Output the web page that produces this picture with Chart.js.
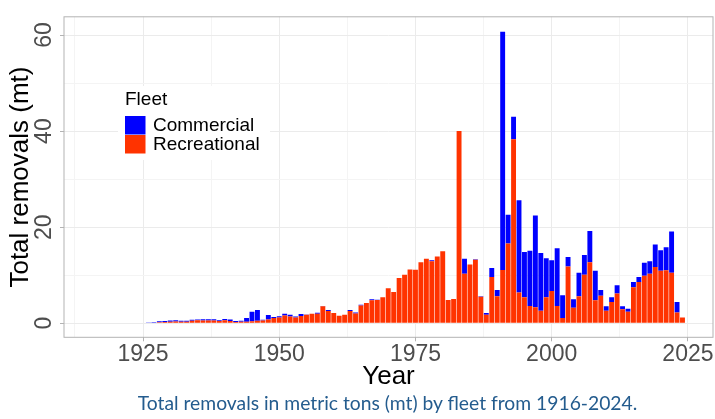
<!DOCTYPE html>
<html>
<head>
<meta charset="utf-8">
<script src="https://cdn.jsdelivr.net/npm/chart.js@4"></script>
<style>
  html, body { margin: 0; padding: 0; background: #fff; }
  #wrap { position: relative; width: 715px; height: 419px; }
  #chart { position: absolute; left: 0; top: 0; }
  #caption {
    position: absolute; left: 0; top: 391px; width: 775px;
    font-family: Lato, "Open Sans", sans-serif; font-size: 19.3px;
    color: #245c8e; text-align: center; white-space: nowrap;
  }
</style>
</head>
<body>
<div id="wrap">
  <canvas id="chart" width="715" height="392"></canvas>
  <div id="caption">Total removals in metric tons (mt) by fleet from 1916-2024.</div>
</div>
<script>
// removals per year, metric tons
const years = [];
for (let y = 1916; y <= 2024; y++) years.push(y);

const recreational = [
    0, 0, 0, 0, 0, 0, 0, 0, 0, 0,
    0, 0.1, 0.2, 0.25, 0.3, 0.35, 0.3, 0.3, 0.5, 0.6,
    0.55, 0.55, 0.55, 0.45, 0.6, 0.45, 0.25, 0.3, 0.3, 0.4,
    0.5, 0.55, 0.75, 1.1, 1.2, 1.6, 1.4, 1.2, 1.5, 1.75,
    1.95, 1.95, 3.5, 2.55, 2.1, 1.55, 1.75, 2.55, 2.0, 3.7,
    4.2, 4.8, 4.85, 5.4, 7.3, 6.5, 9.4, 10.1, 11.2, 11.15,
    12.7, 13.4, 12.9, 13.9, 15.0, 4.85, 5.05, 40.0, 10.3, 12.2,
    13.2, 5.5, 1.75, 9.6, 5.6, 11.1, 16.6, 38.3, 6.4, 5.4,
    3.6, 3.3, 2.6, 5.4, 6.7, 3.6, 1.1, 11.8, 3.2, 5.6,
    10.1, 12.7, 4.8, 5.7, 2.6, 4.4, 6.2, 2.9, 2.4, 7.5,
    8.6, 9.9, 10.3, 11.7, 10.9, 11.0, 10.5, 2.2, 1.2
];

const commercial = [
    0, 0.1, 0.1, 0, 0, 0.1, 0.1, 0, 0, 0.1,
    0.15, 0.1, 0.2, 0.2, 0.25, 0.25, 0.2, 0.2, 0.2, 0.15,
    0.25, 0.25, 0.25, 0.15, 0.25, 0.3, 0.2, 0.2, 0.8, 2.0,
    2.25, 0.15, 0.95, 0.2, 0.25, 0.35, 0.35, 0.2, 0.4, 0.05,
    0, 0.2, 0.1, 0.2, 0, 0, 0, 0.2, 0.2, 0.15,
    0, 0.2, 0.05, 0, 0, 0, 0, 0, 0, 0,
    0, 0, 0.2, 0, 0, 0, 0, 0, 3.1, 0,
    0.1, 0.1, 0.35, 1.9, 1.3, 49.6, 6.0, 4.7, 19.2, 9.4,
    11.5, 19.1, 12.0, 8.1, 6.4, 12.0, 4.7, 2.0, 1.8, 4.9,
    4.1, 6.5, 6.1, 1.2, 0.9, 1.0, 1.7, 0.6, 0.6, 1.1,
    1.0, 2.7, 2.6, 4.7, 4.3, 4.8, 8.6, 2.2, 0
];

const yTicks = [0, 10, 20, 30, 40, 50, 60];
const xTicks = [1912.5, 1925, 1937.5, 1950, 1962.5, 1975, 1987.5, 2000, 2012.5, 2025];

const BLUE = '#0000ff';
const RED = '#ff3300';
const FONT = '"Liberation Sans", Arial, sans-serif';

// panel border on all four sides
const panelBorder = {
    id: 'panelBorder',
    afterDraw(chart) {
        const { ctx, chartArea: a } = chart;
        ctx.save();
        ctx.strokeStyle = '#b3b3b3';
        ctx.lineWidth = 1;
        ctx.strokeRect(a.left, a.top, a.right - a.left, a.bottom - a.top);
        ctx.restore();
    }
};

// legend box sitting inside the panel
const fleetLegend = {
    id: 'fleetLegend',
    afterDraw(chart) {
        const ctx = chart.ctx;
        ctx.save();
        ctx.fillStyle = '#fff';
        ctx.fillRect(118, 86, 152, 74);
        ctx.textBaseline = 'middle';
        ctx.fillStyle = '#000';
        ctx.font = '19px ' + FONT;
        ctx.fillText('Fleet', 125, 100);
        ctx.fillStyle = BLUE;
        ctx.fillRect(125, 116, 20.5, 18.5);
        ctx.fillStyle = RED;
        ctx.fillRect(125, 135, 20.5, 18.5);
        ctx.fillStyle = '#000';
        ctx.fillText('Commercial', 153, 126);
        ctx.fillText('Recreational', 153, 145);
        ctx.restore();
    }
};

new Chart(document.getElementById('chart'), {
    type: 'bar',
    data: {
        labels: years,
        datasets: [
            { label: 'Recreational', data: recreational, backgroundColor: RED, stack: 'fleet' },
            { label: 'Commercial', data: commercial, backgroundColor: BLUE, stack: 'fleet' }
        ]
    },
    options: {
        responsive: false,
        animation: false,
        barPercentage: 0.9,
        categoryPercentage: 1,
        layout: { padding: { top: 5.7, right: 2, left: 0, bottom: 0 } },
        plugins: { legend: { display: false }, tooltip: { enabled: false } },
        scales: {
            x: {
                type: 'linear',
                stacked: true,
                offset: false,
                min: 1910.5,
                max: 2029.6,
                afterBuildTicks: s => { s.ticks = xTicks.map(v => ({ value: v })); },
                afterFit: s => { s.height = 54.7; },
                grid: {
                    offset: false,
                    color: c => c.tick && c.tick.value % 25 === 0 ? '#ebebeb' : '#f4f4f4',
                    tickColor: c => c.tick && c.tick.value % 25 === 0 ? '#b3b3b3' : 'rgba(0,0,0,0)',
                    tickLength: 4,
                    lineWidth: 1
                },
                border: { display: false },
                ticks: {
                    autoSkip: false,
                    maxRotation: 0,
                    padding: 0,
                    color: '#4d4d4d',
                    font: { family: FONT, size: 23 },
                    callback: v => (v % 25 === 0 ? String(v) : '')
                },
                title: {
                    display: true,
                    text: 'Year',
                    color: '#000',
                    font: { family: FONT, size: 26 },
                    padding: { top: 0, bottom: 0 }
                }
            },
            y: {
                stacked: true,
                min: -2.94,
                max: 63.8,
                afterBuildTicks: s => { s.ticks = yTicks.map(v => ({ value: v })); },
                afterFit: s => { s.width = 64; },
                grid: {
                    color: c => c.tick && c.tick.value % 20 === 0 ? '#ebebeb' : '#f4f4f4',
                    tickColor: c => c.tick && c.tick.value % 20 === 0 ? '#b3b3b3' : 'rgba(0,0,0,0)',
                    tickLength: 4,
                    lineWidth: 1
                },
                border: { display: false },
                ticks: {
                    minRotation: 90,
                    maxRotation: 90,
                    crossAlign: 'center',
                    padding: 3,
                    color: '#4d4d4d',
                    font: { family: FONT, size: 23 },
                    callback: v => (v % 20 === 0 ? String(v) : '')
                },
                title: {
                    display: true,
                    text: 'Total removals (mt)',
                    color: '#000',
                    font: { family: FONT, size: 26 },
                    padding: { top: 5, bottom: 0 }
                }
            }
        }
    },
    plugins: [panelBorder, fleetLegend]
});
</script>
</body>
</html>
